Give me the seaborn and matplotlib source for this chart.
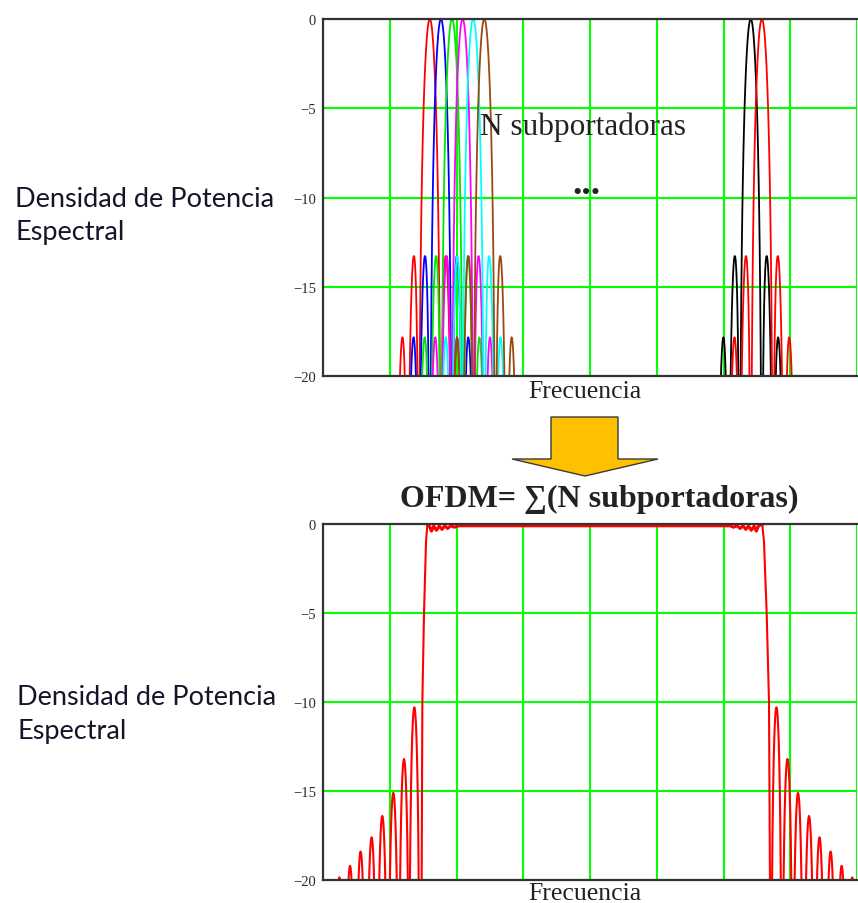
import numpy as np
import pandas as pd
import matplotlib
matplotlib.use("Agg")
import matplotlib.pyplot as plt
import seaborn as sns
from matplotlib.patches import Polygon

# ------------------------------------------------------------------ data
# Shape of one subcarrier's spectrum:
# offset from the subcarrier centre (in subcarrier spacings) -> level in dB
CARRIER_OFFSET = [0.00, 0.05, 0.10, 0.15, 0.20, 0.25, 0.30, 0.35, 0.40, 0.45,
                  0.50, 0.55, 0.60, 0.65, 0.70, 0.75, 0.80, 0.85, 0.90, 0.95,
                  1.00, 1.05, 1.10, 1.15, 1.20, 1.25, 1.30, 1.35, 1.40, 1.45,
                  1.50, 1.55, 1.60, 1.65, 1.70, 1.75, 1.80, 1.85, 1.90, 1.95,
                  2.00, 2.05, 2.10, 2.15, 2.20, 2.25, 2.30, 2.35, 2.40, 2.45,
                  2.50, 2.55, 2.60, 2.65, 2.70, 2.75, 2.80, 2.85, 2.90, 3.00]
CARRIER_DB = [0.0, -0.04, -0.14, -0.32, -0.58, -0.91, -1.33, -1.83, -2.42, -3.11,
              -3.92, -4.86, -5.94, -7.20, -8.69, -10.45, -12.62, -15.39, -19.23, -25.6,
              -40.0, -26.5, -20.97, -18.0, -16.14, -14.89, -14.06, -13.55, -13.30, -13.28,
              -13.46, -13.85, -14.46, -15.30, -16.39, -17.81, -19.66, -22.15, -25.7, -31.9,
              -40.0, -32.3, -26.6, -23.45, -21.41, -20.0, -19.02, -18.37, -17.98, -17.83,
              -17.90, -18.18, -18.68, -19.41, -20.41, -21.74, -23.5, -25.9, -29.0, -40.0]

# top panel: subcarrier centres (frequency axis in subcarrier spacings)
LEFT_CENTERS = [9.6, 10.6, 11.6, 12.55, 13.5, 14.5]
LEFT_COLORS = ["#FF0000", "#0000FF", "#00E600", "#FF00FF", "#00FFFF", "#9A4A10"]
RIGHT_CENTERS = [38.45, 39.45]
RIGHT_COLORS = ["#000000", "#FF0000"]

# bottom panel: OFDM spectrum (sum of N subcarriers)
# in-band part incl. edges
BAND_X = [8.75, 8.87, 8.93, 9.08, 9.26, 9.38, 9.55, 9.75, 9.95, 10.2, 10.45, 10.7,
          10.95, 11.2, 11.5, 11.8, 12.2, 36.6, 36.9, 37.2, 37.5, 37.75, 38.0,
          38.25, 38.5, 38.75, 38.95, 39.15, 39.35, 39.49, 39.64, 39.88, 40.09,
          40.18, 40.25]
BAND_DB = [-40.0, -20.0, -10.0, -5.0, -1.0, -0.05, -0.1, -0.4, -0.12, -0.35, -0.12, -0.3,
           -0.1, -0.25, -0.1, -0.18, -0.1, -0.1, -0.18, -0.1, -0.25, -0.1, -0.3,
           -0.12, -0.35, -0.12, -0.4, -0.1, -0.05, -0.05, -1.0, -5.0, -10.0,
           -20.0, -40.0]
# out-of-band side lobes: peak positions and peak levels
LEFT_LOBE_X = [1.47, 2.43, 3.38, 4.37, 5.33, 6.32, 7.28, 8.21]
LEFT_LOBE_DB = [-19.85, -19.2, -18.4, -17.6, -16.4, -15.1, -13.2, -10.3]
RIGHT_LOBE_X = [40.76, 41.75, 42.70, 43.69, 44.63, 45.63, 46.62, 47.57]
RIGHT_LOBE_DB = [-10.3, -13.2, -15.1, -16.4, -17.6, -18.4, -19.2, -19.85]
# shape of one side lobe relative to its peak (offset, dB below peak)
LOBE_OFFSET = [-0.5, -0.45, -0.4, -0.35, -0.3, -0.25, -0.2, -0.15, -0.1, -0.05, 0.0,
               0.05, 0.1, 0.15, 0.2, 0.25, 0.3, 0.35, 0.4, 0.45, 0.5]
LOBE_DB = [-40.0, -16.1, -10.2, -6.86, -4.62, -3.01, -1.84, -1.0, -0.44, -0.11, 0.0,
           -0.11, -0.44, -1.0, -1.84, -3.01, -4.62, -6.86, -10.2, -16.1, -40.0]

GRID_X = [0, 6, 12, 18, 24, 30, 36, 42, 48]
YTICKS = [0, -5, -10, -15, -20]
YTICK_LABELS = ["0", "\u22125", "\u221210", "\u221215", "\u221220"]

# ------------------------------------------------------------------ style
sns.set_style("white")
plt.rcParams["font.family"] = ["Liberation Serif", "DejaVu Serif"]

W, H = 858, 904
fig = plt.figure(figsize=(W / 100, H / 100), dpi=100)


def fx(px):
    return px / W


def fy(py):
    return 1 - py / H


ax1 = fig.add_axes([fx(323), fy(377), (857 - 323) / W, (377 - 20) / H])
ax2 = fig.add_axes([fx(323), fy(881), (857 - 323) / W, (881 - 525) / H])

for ax in (ax1, ax2):
    ax.set_xlim(GRID_X[0], GRID_X[-1])
    ax.set_ylim(-20, 0)
    ax.set_xticks(GRID_X)
    ax.set_xticklabels([])
    ax.set_yticks(YTICKS)
    ax.set_yticklabels(YTICK_LABELS, fontsize=10.5, color="#2A2A2A",
                       family=["Liberation Serif", "DejaVu Serif"])
    for lbl in ax.get_yticklabels():
        lbl.set_va("center_baseline")
    ax.tick_params(length=0, pad=5)
    ax.grid(True, color="#00FF00", lw=1.5)
    ax.set_axisbelow(True)
    for s in ("left", "bottom", "top"):
        ax.spines[s].set_color("#333333")
        ax.spines[s].set_linewidth(1.6)
    ax.spines["right"].set_visible(False)


def carrier_curve(center):
    off = np.array(CARRIER_OFFSET)
    db = np.array(CARRIER_DB)
    x = np.concatenate([center - off[::-1], center + off[1:]])
    y = np.concatenate([db[::-1], db[1:]])
    return x, y


for c, col in list(zip(LEFT_CENTERS, LEFT_COLORS)) + list(zip(RIGHT_CENTERS, RIGHT_COLORS)):
    x, y = carrier_curve(c)
    sns.lineplot(x=x, y=y, ax=ax1, color=col, lw=1.3, sort=False,
                 estimator=None, legend=False)

# bottom curve
xs, ys = [], []
for px_, pdb in zip(LEFT_LOBE_X, LEFT_LOBE_DB):
    xs += [px_ + o for o in LOBE_OFFSET]
    ys += [pdb + d for d in LOBE_DB]
xs += BAND_X
ys += BAND_DB
for px_, pdb in zip(RIGHT_LOBE_X, RIGHT_LOBE_DB):
    xs += [px_ + o for o in LOBE_OFFSET]
    ys += [pdb + d for d in LOBE_DB]
sns.lineplot(x=xs, y=ys, ax=ax2, color="#FF0000", lw=1.5, sort=False,
             estimator=None, legend=False)
# thicker in-band top
sns.lineplot(x=BAND_X[5:-5], y=BAND_DB[5:-5], ax=ax2, color="#FF0000", lw=2.2,
             sort=False, estimator=None, legend=False)

for ax in (ax1, ax2):
    ax.set_xlabel("")
    ax.set_ylabel("")

# ------------------------------------------------------------------ texts
sans = ["Lato", "DejaVu Sans"]
lab_col = "#15152A"
fig.text(fx(15), fy(207), "Densidad de Potencia", family=sans, fontsize=19.5,
         color=lab_col, va="baseline", ha="left")
fig.text(fx(15), fy(240), "Espectral", family=sans, fontsize=19.5,
         color=lab_col, va="baseline", ha="left")
fig.text(fx(17), fy(705), "Densidad de Potencia", family=sans, fontsize=19.5,
         color=lab_col, va="baseline", ha="left")
fig.text(fx(17), fy(739), "Espectral", family=sans, fontsize=19.5,
         color=lab_col, va="baseline", ha="left")

serif = ["Liberation Serif", "DejaVu Serif"]
fig.text(fx(480), fy(135), "N subportadoras", family=serif, fontsize=22.5,
         color="#222222", va="baseline", ha="left")
fig.text(fx(586), fy(194), "...", family=serif, fontsize=27, weight="bold",
         color="#222222", va="baseline", ha="center")
fig.text(fx(585), fy(398), "Frecuencia", family=serif, fontsize=18.5,
         color="#222222", va="baseline", ha="center")
fig.text(fx(585), fy(900), "Frecuencia", family=serif, fontsize=18.5,
         color="#222222", va="baseline", ha="center")
fig.text(fx(599), fy(507), "OFDM= \u2211(N subportadoras)", family=serif,
         fontsize=23, weight="bold", color="#222222", va="baseline", ha="center")

# arrow
arrow_px = [(551, 418), (618, 418), (618, 460), (658, 460), (585, 477),
            (512, 460), (551, 460)]
fig.patches.append(Polygon([(fx(a), fy(b)) for a, b in arrow_px], closed=True,
                           transform=fig.transFigure, facecolor="#FFC000",
                           edgecolor="#3A3A3A", lw=1.0))

fig.savefig("out.png", dpi=100)
